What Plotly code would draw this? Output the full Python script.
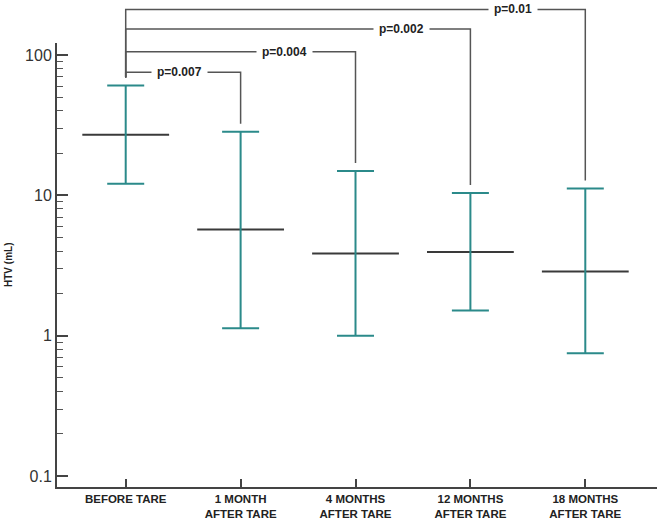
import math
import plotly.graph_objects as go

# ---------------- data ----------------
categories = ["BEFORE TARE", "1 MONTH<br>AFTER TARE", "4 MONTHS<br>AFTER TARE",
              "12 MONTHS<br>AFTER TARE", "18 MONTHS<br>AFTER TARE"]
medians = [27.0, 5.7, 3.85, 3.95, 2.87]
upper = [60.5, 28.4, 14.9, 10.4, 11.2]
lower = [12.1, 1.13, 1.0, 1.51, 0.75]

p_labels = ["p=0.007", "p=0.004", "p=0.002", "p=0.01"]
p_targets = [1, 2, 3, 4]              # compared against category 0
p_heights = [75.4, 105.6, 153.0, 211.0]  # bracket height, in HTV units

y_major = [0.1, 1, 10, 100]
y_major_text = ["0.1", "1", "10", "100"]
y_minor = [m * d for d in (0.1, 1, 10) for m in range(2, 10)]

# ---------------- style ----------------
TEAL = "#2b8a8a"
DARK = "#3a3a3a"
GREY = "#555555"
Y_LO, Y_HI = -1.0783, 2.0854
X_LO, X_HI = -0.598, 4.624
label_offsets = [0.53, 0.62, 0.60, 0.625]
gap_px = 8
plot_h = 444


def ypaper(v):
    return (math.log10(v) - Y_LO) / (Y_HI - Y_LO)


fig = go.Figure()

# median lines (line-ew width = 1.4 * size)
fig.add_trace(go.Scatter(
    x=categories, y=medians, mode="markers",
    marker=dict(symbol="line-ew", size=62, color=DARK,
                line=dict(color=DARK, width=2)),
    hoverinfo="skip", showlegend=False,
))
# range whiskers
fig.add_trace(go.Scatter(
    x=categories, y=medians, mode="markers",
    marker=dict(size=1, color="rgba(0,0,0,0)"),
    error_y=dict(type="data", symmetric=False,
                 array=[u - m for u, m in zip(upper, medians)],
                 arrayminus=[m - l for m, l in zip(medians, lower)],
                 color=TEAL, thickness=2, width=18.5),
    hoverinfo="skip", showlegend=False,
))

shapes = []
annotations = []
gap = gap_px / plot_h
left_bottom = ypaper(upper[0]) + gap
for lab, tgt, h, off in zip(p_labels, p_targets, p_heights, label_offsets):
    yh = ypaper(h)
    yend = ypaper(upper[tgt]) + gap
    shapes.append(dict(type="path", xref="x", yref="paper",
                       path=f"M 0,{left_bottom} L 0,{yh} L {tgt},{yh} L {tgt},{yend}",
                       line=dict(color=GREY, width=1.5)))
    annotations.append(dict(x=tgt - off, y=yh, xref="x", yref="paper",
                            xanchor="center", yanchor="middle",
                            text=f"<b>{lab}</b>", showarrow=False,
                            bgcolor="white", borderpad=5,
                            font=dict(family="Liberation Sans, Arial", size=12,
                                      color="#222222")))

annotations.append(dict(x=-0.0817, y=0.5, xref="paper", yref="paper",
                        xanchor="center", yanchor="middle",
                        text="<b>HTV (mL)</b>", textangle=-90, showarrow=False,
                        font=dict(family="Liberation Sans, Arial", size=10,
                                  color="#222222")))

fig.update_layout(
    width=661, height=525,
    margin=dict(l=57, r=4, t=43, b=38, pad=0),
    paper_bgcolor="white", plot_bgcolor="white",
    template="none",
    shapes=shapes, annotations=annotations,
    showlegend=False,
    xaxis=dict(
        type="category", range=[X_LO, X_HI],
        showgrid=False, zeroline=False,
        showline=True, linecolor="#444444", linewidth=2,
        ticks="inside", ticklen=8, tickwidth=1.5, tickcolor="#444444",
        tickfont=dict(family="Liberation Sans, Arial",
                      size=11.5, color="#222222", weight="bold"),
        automargin=False,
    ),
    yaxis=dict(
        type="log", range=[Y_LO, Y_HI],
        showgrid=False, zeroline=False,
        showline=True, linecolor="#444444", linewidth=2,
        tickvals=y_major, ticktext=y_major_text,
        ticks="inside", ticklen=11, tickwidth=1.5, tickcolor="#444444",
        tickfont=dict(family="Liberation Sans, Arial", size=16, color="#333333"),
        minor=dict(tickvals=y_minor, ticks="inside", ticklen=6,
                   tickwidth=1.2, tickcolor="#555555", showgrid=False),
        automargin=False,
    ),
)

fig.write_html("out.html", config={"displayModeBar": False},
               post_script="document.body.style.margin='0px';")
